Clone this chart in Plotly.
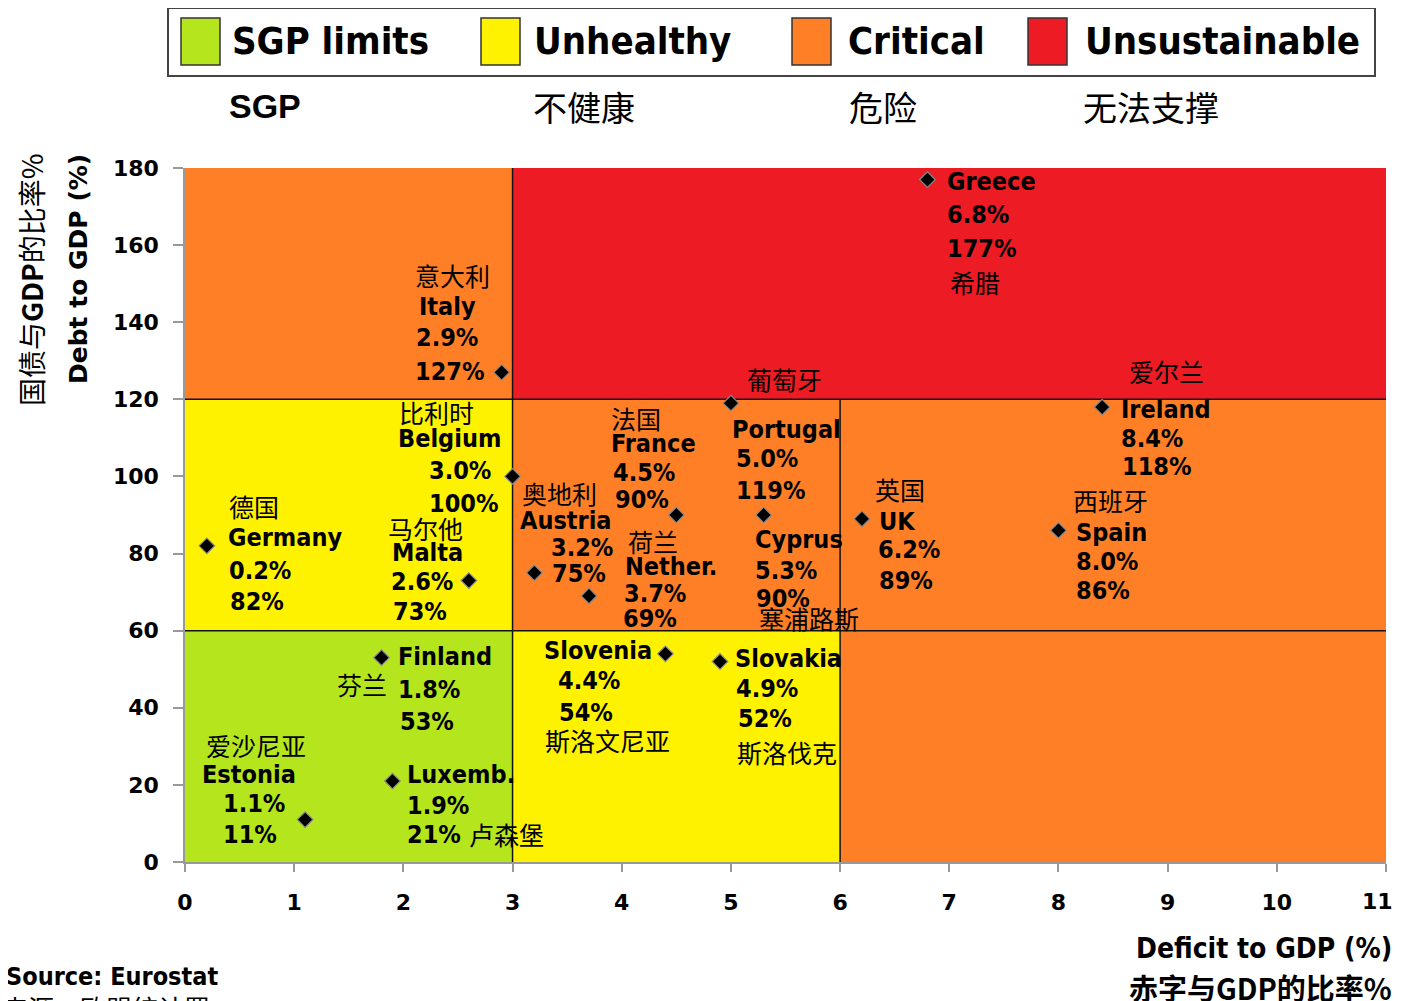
import plotly.graph_objects as go

# ---------------- data ----------------
countries_en = ["Greece", "Italy", "Ireland", "Portugal", "Belgium", "France", "Cyprus", "UK", "Spain",
                "Germany", "Austria", "Malta", "Nether.", "Slovenia", "Slovakia", "Finland", "Luxemb.", "Estonia"]
countries_zh = ["希腊", "意大利", "爱尔兰", "葡萄牙", "比利时", "法国", "塞浦路斯", "英国", "西班牙",
                "德国", "奥地利", "马尔他", "荷兰", "斯洛文尼亚", "斯洛伐克", "芬兰", "卢森堡", "爱沙尼亚"]
deficit = [6.8, 2.9, 8.4, 5.0, 3.0, 4.5, 5.3, 6.2, 8.0, 0.2, 3.2, 2.6, 3.7, 4.4, 4.9, 1.8, 1.9, 1.1]
debt = [177, 127, 118, 119, 100, 90, 90, 89, 86, 82, 75, 73, 69, 54, 52, 53, 21, 11]

zone_names = ["SGP limits", "Unhealthy", "Critical", "Unsustainable"]
zone_names_zh = ["SGP", "不健康", "危险", "无法支撑"]
# zones: (x0, x1, y0, y1, category index)
zone_x0 = [0, 0, 3, 0, 3, 6, 3]
zone_x1 = [3, 3, 6, 3, 11, 11, 11]
zone_y0 = [0, 60, 0, 120, 60, 0, 120]
zone_y1 = [60, 120, 60, 180, 120, 60, 180]
zone_cat = [0, 1, 1, 2, 2, 2, 3]

x_ticks = list(range(0, 12))
y_ticks = list(range(0, 181, 20))

# ---------------- styles / layout ----------------
zone_colors = ["#B5E61D", "#FFF200", "#FF7F27", "#ED1C24"]
EN = "DejaVu Sans Condensed, DejaVu Sans, sans-serif"
EN_W = "DejaVu Sans, sans-serif"
ZH = "Noto Sans CJK SC, sans-serif"

W_REF, H_REF = 1403, 1001
OFF = 8  # page body margin
L, R, T, B = 185, 1386, 168, 862
FIG_W = W_REF - 2 * OFF
FIG_H = H_REF - OFF


def pxx(px):
    return (px - L) / (R - L)


def pxy(py):
    return (B - py) / (B - T)


# label offsets (pixels, relative to marker): zh name, then 3 English lines
offsets = {
    "Greece":   [(21, 102), (18, 2), (18, 35), (18, 69)],
    "Italy":    [(-89, -97), (-85, -66), (-88, -35), (-89, -1)],
    "Ireland":  [(25, -36), (17, 2), (17, 31), (18, 59)],
    "Portugal": [(14, -24), (-1, 26), (3, 55), (3, 87)],
    "Belgium":  [(-116, -64), (-117, -38), (-86, -6), (-86, 27)],
    "France":   [(-67, -97), (-67, -72), (-65, -43), (-63, -16)],
    "Cyprus":   [(-7, 103), (-11, 24), (-11, 55), (-10, 83)],
    "UK":       [(11, -30), (15, 3), (14, 31), (15, 62)],
    "Spain":    [(13, -30), (16, 2), (16, 31), (16, 60)],
    "Germany":  [(20, -40), (19, -8), (20, 25), (21, 56)],
    "Austria":  [(-14, -80), (-16, -52), (15, -25), (16, 1)],
    "Malta":    [(-83, -53), (-79, -28), (-80, 1), (-78, 31)],
    "Nether.":  [(37, -55), (34, -29), (33, -2), (32, 23)],
    "Slovenia": [(-122, 86), (-123, -3), (-109, 27), (-108, 59)],
    "Slovakia": [(15, 90), (13, -3), (14, 27), (16, 57)],
    "Finland":  [(-47, 26), (14, -1), (14, 32), (16, 64)],
    "Luxemb.":  [(75, 53), (13, -7), (13, 24), (13, 53)],
    "Estonia":  [(-101, -75), (-105, -45), (-84, -16), (-84, 15)],
}

fig = go.Figure()

shapes = []
for x0, x1, y0, y1, c in zip(zone_x0, zone_x1, zone_y0, zone_y1, zone_cat):
    shapes.append(dict(type="rect", xref="x", yref="y", x0=x0, x1=x1, y0=y0, y1=y1,
                       fillcolor=zone_colors[c], line=dict(width=0), layer="below"))
# zone dividers
div_lines = [(0, 11, 120, 120), (0, 11, 60, 60), (3, 3, 0, 180), (6, 6, 0, 120)]
for x0, x1, y0, y1 in div_lines:
    shapes.append(dict(type="line", xref="x", yref="y", x0=x0, x1=x1, y0=y0, y1=y1,
                       line=dict(color="#111", width=1.5), layer="below"))

# legend box
shapes.append(dict(type="rect", xref="paper", yref="paper", x0=pxx(168), x1=pxx(1375),
                   y0=pxy(76), y1=pxy(8), fillcolor="white", line=dict(color="#444", width=2)))
annotations = []
sw_left = [181, 481, 792, 1028]
txt_left = [230, 532, 846, 1083]
zh_left = [227, 531, 847, 1081]
for i, name in enumerate(zone_names):
    shapes.append(dict(type="rect", xref="paper", yref="paper", x0=pxx(sw_left[i]), x1=pxx(sw_left[i] + 39),
                       y0=pxy(65), y1=pxy(18), fillcolor=zone_colors[i], line=dict(color="#333", width=1.5)))
    annotations.append(dict(text=name, xref="paper", yref="paper", x=pxx(txt_left[i]), y=pxy(41),
                            xanchor="left", yanchor="middle", showarrow=False,
                            font=dict(family=EN, size=38, weight="bold", color="black")))
    zt = zone_names_zh[i]
    fam = "Liberation Sans, Arial, sans-serif" if i == 0 else ZH
    annotations.append(dict(text=zt, xref="paper", yref="paper", x=pxx(zh_left[i]), y=pxy(106),
                            xanchor="left", yanchor="middle", showarrow=False,
                            font=dict(family=fam, size=34, weight="bold" if i == 0 else "normal", color="black")))

# markers
fig.add_trace(go.Scatter(x=deficit, y=debt, mode="markers", hoverinfo="text",
                         text=countries_en,
                         marker=dict(symbol="diamond", size=12, color="black",
                                     line=dict(color="#8a8a8a", width=1.2)),
                         showlegend=False, cliponaxis=False))

# country labels
for en, zh, dx_, db in zip(countries_en, countries_zh, deficit, debt):
    off = offsets[en]
    texts = [en, f"{dx_:.1f}%", f"{db}%"]
    ox, oy = off[0]
    annotations.append(dict(text=zh, x=dx_, y=db, xref="x", yref="y", xshift=ox, yshift=-oy,
                            xanchor="left", yanchor="middle", showarrow=False,
                            font=dict(family=ZH, size=25, color="black")))
    for t, (ox, oy) in zip(texts, off[1:]):
        annotations.append(dict(text=t, x=dx_, y=db, xref="x", yref="y", xshift=ox, yshift=-oy,
                                xanchor="left", yanchor="middle", showarrow=False,
                                font=dict(family=EN, size=25, weight="bold", color="black")))

# last x tick label (at the right edge of the page) drawn as annotation so it is not auto-hidden
tick_font = dict(family=EN_W, size=22, weight="bold", color="black")
x_ticktext = [str(v) for v in x_ticks]
annotations.append(dict(text=x_ticktext[-1], x=x_ticks[-1], xref="x", y=pxy(902), yref="paper",
                        xanchor="right", yanchor="middle", showarrow=False, xshift=9, font=tick_font))
x_ticktext[-1] = ""

# axis titles and source
annotations += [
    dict(text="Debt to GDP (%)", xref="paper", yref="paper", x=pxx(78), y=pxy(269), textangle=-90,
         xanchor="center", yanchor="middle", showarrow=False,
         font=dict(family=EN_W, size=25, weight="bold", color="black")),
    dict(text="国债与<b>GDP</b>的比率%", xref="paper", yref="paper", x=pxx(31), y=pxy(280), textangle=-90,
         xanchor="center", yanchor="middle", showarrow=False,
         font=dict(family=ZH, size=28, color="black")),
    dict(text="Deficit to GDP (%)", xref="paper", yref="paper", x=pxx(1394), y=pxy(948),
         xanchor="right", yanchor="middle", showarrow=False,
         font=dict(family=EN, size=28, weight="bold", color="black")),
    dict(text="赤字与GDP的比率%", xref="paper", yref="paper", x=pxx(1394), y=pxy(987),
         xanchor="right", yanchor="middle", showarrow=False,
         font=dict(family=ZH, size=29, weight="bold", color="black")),
    dict(text="Source: Eurostat", xref="paper", yref="paper", x=pxx(4), y=pxy(977),
         xanchor="left", yanchor="middle", showarrow=False,
         font=dict(family=EN, size=25, weight="bold", color="black")),
    dict(text="来源：欧盟统计署", xref="paper", yref="paper", x=pxx(0), y=pxy(1008),
         xanchor="left", yanchor="middle", showarrow=False,
         font=dict(family=ZH, size=26, color="black")),
]

fig.update_layout(
    width=FIG_W, height=FIG_H,
    margin=dict(l=L - OFF, r=(FIG_W + OFF) - R, t=T - OFF, b=(FIG_H + OFF) - B, pad=0),
    paper_bgcolor="white", plot_bgcolor="white",
    shapes=shapes, annotations=annotations, showlegend=False,
    xaxis=dict(range=[0, 11], tickvals=x_ticks, ticktext=x_ticktext, ticks="outside", ticklen=8,
               tickcolor="#999", tickwidth=1.5, showline=True, linecolor="#999", linewidth=1.5,
               showgrid=False, zeroline=False, ticklabelstandoff=12, tickfont=tick_font),
    yaxis=dict(range=[0, 180], tickvals=y_ticks, ticks="outside", ticklen=10, tickcolor="#999",
               tickwidth=1.5, showline=True, linecolor="#999", linewidth=1.5, showgrid=False,
               zeroline=False, ticklabelstandoff=10, tickfont=tick_font),
)

fig.write_html("out.html")
